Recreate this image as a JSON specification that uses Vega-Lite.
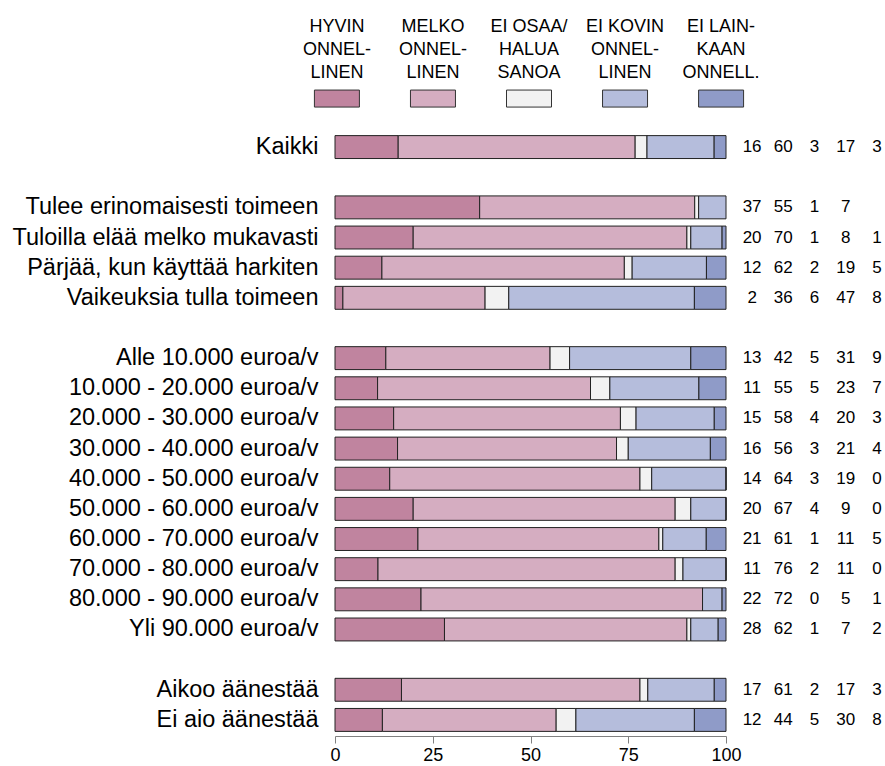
{
 "$schema": "https://vega.github.io/schema/vega-lite/v6.json",
 "padding": {"left": 11, "top": 5, "right": 5, "bottom": 5},
 "columns": 2,
 "spacing": {"row": 27, "column": 23},
 "bounds": "flush",
 "config": {"view": {"stroke": null}, "font": "Liberation Sans"},
 "datasets": {
  "cats": [
   {"c": "HYVIN", "label": "HYVIN\nONNEL-\nLINEN"},
   {"c": "MELKO", "label": "MELKO\nONNEL-\nLINEN"},
   {"c": "EI OSAA", "label": "EI OSAA/\nHALUA\nSANOA"},
   {"c": "EI KOVIN", "label": "EI KOVIN\nONNEL-\nLINEN"},
   {"c": "EI LAIN", "label": "EI LAIN-\nKAAN\nONNELL."}
  ],
  "rows": [
   {"g": "Kaikki", "c": "HYVIN", "n": 1, "v": 16},
   {"g": "Kaikki", "c": "MELKO", "n": 2, "v": 60},
   {"g": "Kaikki", "c": "EI OSAA", "n": 3, "v": 3},
   {"g": "Kaikki", "c": "EI KOVIN", "n": 4, "v": 17},
   {"g": "Kaikki", "c": "EI LAIN", "n": 5, "v": 3},
   {"g": "Tulee erinomaisesti toimeen", "c": "HYVIN", "n": 1, "v": 37},
   {"g": "Tulee erinomaisesti toimeen", "c": "MELKO", "n": 2, "v": 55},
   {"g": "Tulee erinomaisesti toimeen", "c": "EI OSAA", "n": 3, "v": 1},
   {"g": "Tulee erinomaisesti toimeen", "c": "EI KOVIN", "n": 4, "v": 7},
   {"g": "Tuloilla elää melko mukavasti", "c": "HYVIN", "n": 1, "v": 20},
   {"g": "Tuloilla elää melko mukavasti", "c": "MELKO", "n": 2, "v": 70},
   {"g": "Tuloilla elää melko mukavasti", "c": "EI OSAA", "n": 3, "v": 1},
   {"g": "Tuloilla elää melko mukavasti", "c": "EI KOVIN", "n": 4, "v": 8},
   {"g": "Tuloilla elää melko mukavasti", "c": "EI LAIN", "n": 5, "v": 1},
   {"g": "Pärjää, kun käyttää harkiten", "c": "HYVIN", "n": 1, "v": 12},
   {"g": "Pärjää, kun käyttää harkiten", "c": "MELKO", "n": 2, "v": 62},
   {"g": "Pärjää, kun käyttää harkiten", "c": "EI OSAA", "n": 3, "v": 2},
   {"g": "Pärjää, kun käyttää harkiten", "c": "EI KOVIN", "n": 4, "v": 19},
   {"g": "Pärjää, kun käyttää harkiten", "c": "EI LAIN", "n": 5, "v": 5},
   {"g": "Vaikeuksia tulla toimeen", "c": "HYVIN", "n": 1, "v": 2},
   {"g": "Vaikeuksia tulla toimeen", "c": "MELKO", "n": 2, "v": 36},
   {"g": "Vaikeuksia tulla toimeen", "c": "EI OSAA", "n": 3, "v": 6},
   {"g": "Vaikeuksia tulla toimeen", "c": "EI KOVIN", "n": 4, "v": 47},
   {"g": "Vaikeuksia tulla toimeen", "c": "EI LAIN", "n": 5, "v": 8},
   {"g": "Alle 10.000 euroa/v", "c": "HYVIN", "n": 1, "v": 13},
   {"g": "Alle 10.000 euroa/v", "c": "MELKO", "n": 2, "v": 42},
   {"g": "Alle 10.000 euroa/v", "c": "EI OSAA", "n": 3, "v": 5},
   {"g": "Alle 10.000 euroa/v", "c": "EI KOVIN", "n": 4, "v": 31},
   {"g": "Alle 10.000 euroa/v", "c": "EI LAIN", "n": 5, "v": 9},
   {"g": "10.000 - 20.000 euroa/v", "c": "HYVIN", "n": 1, "v": 11},
   {"g": "10.000 - 20.000 euroa/v", "c": "MELKO", "n": 2, "v": 55},
   {"g": "10.000 - 20.000 euroa/v", "c": "EI OSAA", "n": 3, "v": 5},
   {"g": "10.000 - 20.000 euroa/v", "c": "EI KOVIN", "n": 4, "v": 23},
   {"g": "10.000 - 20.000 euroa/v", "c": "EI LAIN", "n": 5, "v": 7},
   {"g": "20.000 - 30.000 euroa/v", "c": "HYVIN", "n": 1, "v": 15},
   {"g": "20.000 - 30.000 euroa/v", "c": "MELKO", "n": 2, "v": 58},
   {"g": "20.000 - 30.000 euroa/v", "c": "EI OSAA", "n": 3, "v": 4},
   {"g": "20.000 - 30.000 euroa/v", "c": "EI KOVIN", "n": 4, "v": 20},
   {"g": "20.000 - 30.000 euroa/v", "c": "EI LAIN", "n": 5, "v": 3},
   {"g": "30.000 - 40.000 euroa/v", "c": "HYVIN", "n": 1, "v": 16},
   {"g": "30.000 - 40.000 euroa/v", "c": "MELKO", "n": 2, "v": 56},
   {"g": "30.000 - 40.000 euroa/v", "c": "EI OSAA", "n": 3, "v": 3},
   {"g": "30.000 - 40.000 euroa/v", "c": "EI KOVIN", "n": 4, "v": 21},
   {"g": "30.000 - 40.000 euroa/v", "c": "EI LAIN", "n": 5, "v": 4},
   {"g": "40.000 - 50.000 euroa/v", "c": "HYVIN", "n": 1, "v": 14},
   {"g": "40.000 - 50.000 euroa/v", "c": "MELKO", "n": 2, "v": 64},
   {"g": "40.000 - 50.000 euroa/v", "c": "EI OSAA", "n": 3, "v": 3},
   {"g": "40.000 - 50.000 euroa/v", "c": "EI KOVIN", "n": 4, "v": 19},
   {"g": "40.000 - 50.000 euroa/v", "c": "EI LAIN", "n": 5, "v": 0},
   {"g": "50.000 - 60.000 euroa/v", "c": "HYVIN", "n": 1, "v": 20},
   {"g": "50.000 - 60.000 euroa/v", "c": "MELKO", "n": 2, "v": 67},
   {"g": "50.000 - 60.000 euroa/v", "c": "EI OSAA", "n": 3, "v": 4},
   {"g": "50.000 - 60.000 euroa/v", "c": "EI KOVIN", "n": 4, "v": 9},
   {"g": "50.000 - 60.000 euroa/v", "c": "EI LAIN", "n": 5, "v": 0},
   {"g": "60.000 - 70.000 euroa/v", "c": "HYVIN", "n": 1, "v": 21},
   {"g": "60.000 - 70.000 euroa/v", "c": "MELKO", "n": 2, "v": 61},
   {"g": "60.000 - 70.000 euroa/v", "c": "EI OSAA", "n": 3, "v": 1},
   {"g": "60.000 - 70.000 euroa/v", "c": "EI KOVIN", "n": 4, "v": 11},
   {"g": "60.000 - 70.000 euroa/v", "c": "EI LAIN", "n": 5, "v": 5},
   {"g": "70.000 - 80.000 euroa/v", "c": "HYVIN", "n": 1, "v": 11},
   {"g": "70.000 - 80.000 euroa/v", "c": "MELKO", "n": 2, "v": 76},
   {"g": "70.000 - 80.000 euroa/v", "c": "EI OSAA", "n": 3, "v": 2},
   {"g": "70.000 - 80.000 euroa/v", "c": "EI KOVIN", "n": 4, "v": 11},
   {"g": "70.000 - 80.000 euroa/v", "c": "EI LAIN", "n": 5, "v": 0},
   {"g": "80.000 - 90.000 euroa/v", "c": "HYVIN", "n": 1, "v": 22},
   {"g": "80.000 - 90.000 euroa/v", "c": "MELKO", "n": 2, "v": 72},
   {"g": "80.000 - 90.000 euroa/v", "c": "EI OSAA", "n": 3, "v": 0},
   {"g": "80.000 - 90.000 euroa/v", "c": "EI KOVIN", "n": 4, "v": 5},
   {"g": "80.000 - 90.000 euroa/v", "c": "EI LAIN", "n": 5, "v": 1},
   {"g": "Yli 90.000 euroa/v", "c": "HYVIN", "n": 1, "v": 28},
   {"g": "Yli 90.000 euroa/v", "c": "MELKO", "n": 2, "v": 62},
   {"g": "Yli 90.000 euroa/v", "c": "EI OSAA", "n": 3, "v": 1},
   {"g": "Yli 90.000 euroa/v", "c": "EI KOVIN", "n": 4, "v": 7},
   {"g": "Yli 90.000 euroa/v", "c": "EI LAIN", "n": 5, "v": 2},
   {"g": "Aikoo äänestää", "c": "HYVIN", "n": 1, "v": 17},
   {"g": "Aikoo äänestää", "c": "MELKO", "n": 2, "v": 61},
   {"g": "Aikoo äänestää", "c": "EI OSAA", "n": 3, "v": 2},
   {"g": "Aikoo äänestää", "c": "EI KOVIN", "n": 4, "v": 17},
   {"g": "Aikoo äänestää", "c": "EI LAIN", "n": 5, "v": 3},
   {"g": "Ei aio äänestää", "c": "HYVIN", "n": 1, "v": 12},
   {"g": "Ei aio äänestää", "c": "MELKO", "n": 2, "v": 44},
   {"g": "Ei aio äänestää", "c": "EI OSAA", "n": 3, "v": 5},
   {"g": "Ei aio äänestää", "c": "EI KOVIN", "n": 4, "v": 30},
   {"g": "Ei aio äänestää", "c": "EI LAIN", "n": 5, "v": 8}
  ]
 },
 "concat": [
  {
   "width": 388,
   "height": 100,
   "data": {"name": "cats"},
   "encoding": {
    "x": {"field": "c", "type": "nominal", "scale": {"type": "point", "domain": ["HYVIN", "MELKO", "EI OSAA", "EI KOVIN", "EI LAIN"], "padding": 0.02}, "axis": null}
   },
   "layer": [
    {
     "mark": {"type": "text", "lineBreak": "\n", "fontSize": 18, "lineHeight": 23, "baseline": "middle", "align": "center", "color": "black"},
     "encoding": {
      "y": {"datum": "text", "type": "nominal", "scale": {"type": "point", "domain": ["text", "swatch"], "padding": 0.1944, "align": 0.77}, "axis": null},
      "text": {"field": "label"}
     }
    },
    {
     "mark": {"type": "point", "shape": "M-1,-0.378H1V0.378H-1Z", "size": 2025, "filled": true, "opacity": 1, "stroke": "#333333", "strokeWidth": 1},
     "encoding": {
      "y": {"datum": "swatch", "type": "nominal"},
      "color": {"field": "c", "type": "nominal", "scale": {"domain": ["HYVIN", "MELKO", "EI OSAA", "EI KOVIN", "EI LAIN"], "range": ["#c0849f", "#d5adc1", "#f2f2f2", "#b5bddc", "#8f9bc8"]}, "legend": null}
     }
    }
   ]
  },
  {
   "width": 131,
   "height": 10,
   "data": {"values": []},
   "mark": "text"
  },
  {
   "width": 391,
   "height": 603,
   "data": {"name": "rows"},
   "mark": {"type": "bar", "stroke": "#222222", "strokeWidth": 1},
   "encoding": {
    "y": {"field": "g", "type": "nominal", "scale": {"domain": ["Kaikki", " ", "Tulee erinomaisesti toimeen", "Tuloilla elää melko mukavasti", "Pärjää, kun käyttää harkiten", "Vaikeuksia tulla toimeen", "  ", "Alle 10.000 euroa/v", "10.000 - 20.000 euroa/v", "20.000 - 30.000 euroa/v", "30.000 - 40.000 euroa/v", "40.000 - 50.000 euroa/v", "50.000 - 60.000 euroa/v", "60.000 - 70.000 euroa/v", "70.000 - 80.000 euroa/v", "80.000 - 90.000 euroa/v", "Yli 90.000 euroa/v", "   ", "Aikoo äänestää", "Ei aio äänestää"], "paddingInner": 0.24, "paddingOuter": 0.12}, "axis": {"title": null, "domain": false, "ticks": false, "labelFontSize": 23.5, "labelColor": "black", "labelPadding": 17, "labelLimit": 500}},
    "x": {"field": "v", "type": "quantitative", "stack": "normalize", "scale": {"domain": [0, 1], "nice": false}, "axis": {"title": null, "values": [0, 0.25, 0.5, 0.75, 1], "labelExpr": "format(datum.value*100, 'd')", "labelFlush": false, "grid": false, "domainColor": "#808080", "tickColor": "#808080", "tickSize": 7, "labelFontSize": 18, "labelColor": "black", "offset": 1, "labelPadding": 3}},
    "color": {"field": "c", "type": "nominal", "scale": {"domain": ["HYVIN", "MELKO", "EI OSAA", "EI KOVIN", "EI LAIN"], "range": ["#c0849f", "#d5adc1", "#f2f2f2", "#b5bddc", "#8f9bc8"]}, "legend": null},
    "order": {"field": "n", "type": "quantitative"}
   }
  },
  {
   "width": 131,
   "height": 603,
   "data": {"name": "rows"},
   "mark": {"type": "text", "fontSize": 17, "color": "black"},
   "encoding": {
    "y": {"field": "g", "type": "nominal", "scale": {"domain": ["Kaikki", " ", "Tulee erinomaisesti toimeen", "Tuloilla elää melko mukavasti", "Pärjää, kun käyttää harkiten", "Vaikeuksia tulla toimeen", "  ", "Alle 10.000 euroa/v", "10.000 - 20.000 euroa/v", "20.000 - 30.000 euroa/v", "30.000 - 40.000 euroa/v", "40.000 - 50.000 euroa/v", "50.000 - 60.000 euroa/v", "60.000 - 70.000 euroa/v", "70.000 - 80.000 euroa/v", "80.000 - 90.000 euroa/v", "Yli 90.000 euroa/v", "   ", "Aikoo äänestää", "Ei aio äänestää"], "paddingInner": 0.24, "paddingOuter": 0.12}, "axis": null},
    "x": {"field": "c", "type": "nominal", "scale": {"type": "point", "domain": ["HYVIN", "MELKO", "EI OSAA", "EI KOVIN", "EI LAIN"], "padding": 0.1}, "axis": null},
    "text": {"field": "v", "type": "quantitative"}
   }
  }
 ]
}
